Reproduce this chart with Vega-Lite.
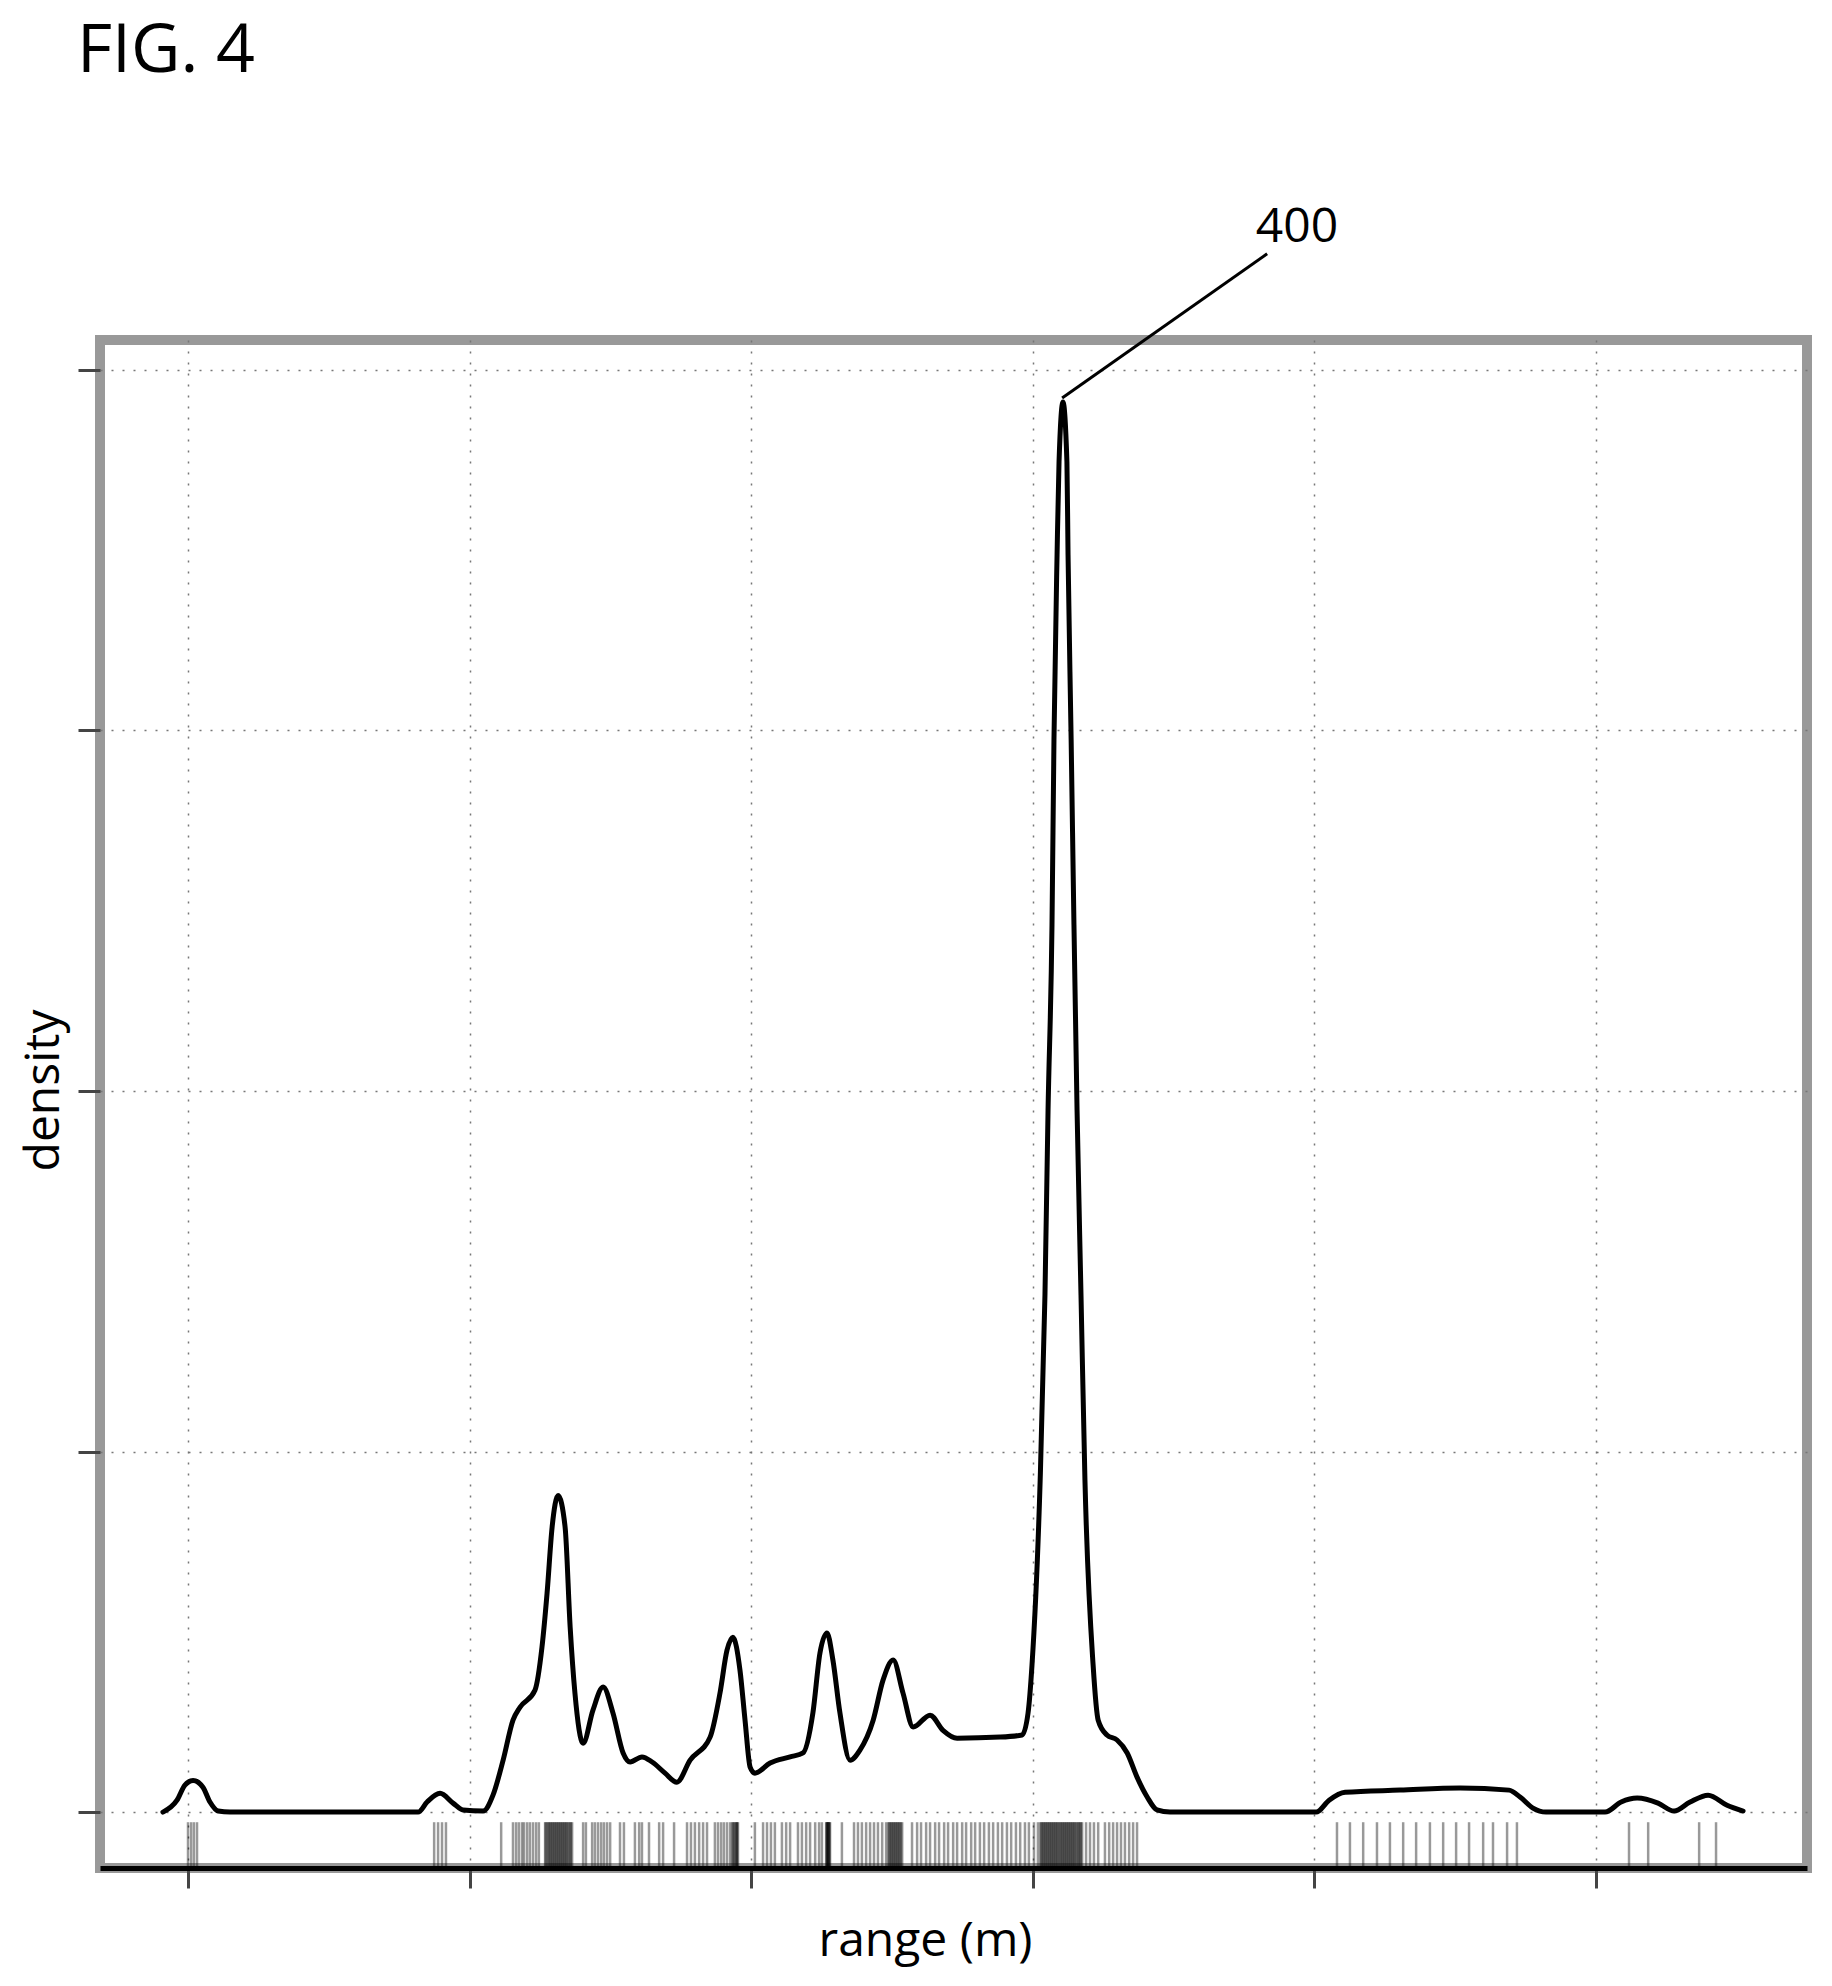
{
"$schema": "https://vega.github.io/schema/vega-lite/v6.json",
"width": 1707, "height": 1528,
"autosize": {"type": "none"},
"padding": {"left": 100, "top": 340, "right": 25, "bottom": 118},
"background": "white",
"title": {"text": "FIG. 4", "anchor": "start", "frame": "group", "font": "Open Sans", "fontSize": 68, "fontWeight": "normal", "color": "black", "baseline": "alphabetic", "offset": 64, "dx": -23},
"datasets": {
"curve": [
{"r":-0.89,"d":0},{"r":-0.39,"d":0.0033},{"r":-0.11,"d":0.0075},{"r":0.18,"d":0.0088},{"r":0.53,"d":0.0069},{"r":0.78,"d":0.0028},{"r":1.07,"d":0.0003},{"r":1.49,"d":0},{"r":3.98,"d":0},{"r":8.17,"d":0},{"r":8.49,"d":0.0028},{"r":8.95,"d":0.0052},{"r":9.41,"d":0.0025},{"r":9.77,"d":0.0006},{"r":10.48,"d":0.0003},{"r":10.83,"d":0.0047},{"r":11.19,"d":0.0144},{"r":11.54,"d":0.0255},{"r":11.79,"d":0.0291},{"r":12.32,"d":0.0338},{"r":12.57,"d":0.0458},{"r":12.75,"d":0.0607},{"r":12.93,"d":0.0791},{"r":13.14,"d":0.0878},{"r":13.39,"d":0.0791},{"r":13.57,"d":0.0513},{"r":13.74,"d":0.033},{"r":14.03,"d":0.0191},{"r":14.38,"d":0.0283},{"r":14.74,"d":0.0347},{"r":15.09,"d":0.0275},{"r":15.45,"d":0.0164},{"r":15.7,"d":0.0139},{"r":16.12,"d":0.0153},{"r":16.48,"d":0.0139},{"r":16.94,"d":0.0108},{"r":17.36,"d":0.0083},{"r":17.83,"d":0.0144},{"r":18.54,"d":0.0208},{"r":18.89,"d":0.033},{"r":19.14,"d":0.0449},{"r":19.35,"d":0.0485},{"r":19.6,"d":0.0394},{"r":19.78,"d":0.0255},{"r":19.96,"d":0.0125},{"r":20.13,"d":0.0108},{"r":20.67,"d":0.0136},{"r":21.38,"d":0.0153},{"r":21.84,"d":0.0164},{"r":22.19,"d":0.0275},{"r":22.44,"d":0.0441},{"r":22.69,"d":0.0497},{"r":22.9,"d":0.0422},{"r":23.15,"d":0.0275},{"r":23.51,"d":0.0144},{"r":23.86,"d":0.0172},{"r":24.33,"d":0.0255},{"r":24.68,"d":0.0366},{"r":25.04,"d":0.0422},{"r":25.39,"d":0.033},{"r":25.75,"d":0.0236},{"r":26.35,"d":0.0269},{"r":26.81,"d":0.0227},{"r":27.31,"d":0.0205},{"r":28.84,"d":0.0208},{"r":29.62,"d":0.0214},{"r":29.83,"d":0.0275},{"r":29.97,"d":0.0408},{"r":30.26,"d":0.0921},{"r":30.43,"d":0.1434},{"r":30.54,"d":0.1947},{"r":30.68,"d":0.2461},{"r":30.75,"d":0.2974},{"r":30.86,"d":0.3487},{"r":30.93,"d":0.3745},{"r":31.07,"d":0.3911},{"r":31.21,"d":0.3745},{"r":31.25,"d":0.3487},{"r":31.36,"d":0.2974},{"r":31.46,"d":0.2461},{"r":31.57,"d":0.1947},{"r":31.71,"d":0.1434},{"r":31.85,"d":0.0921},{"r":32.14,"d":0.0408},{"r":32.32,"d":0.0255},{"r":32.63,"d":0.0214},{"r":32.99,"d":0.02},{"r":33.35,"d":0.0164},{"r":33.7,"d":0.0097},{"r":34.06,"d":0.0042},{"r":34.41,"d":0.0006},{"r":34.87,"d":0},{"r":40.06,"d":0},{"r":40.52,"d":0.0033},{"r":41.09,"d":0.0055},{"r":43.04,"d":0.0061},{"r":45.17,"d":0.0067},{"r":46.91,"d":0.0061},{"r":47.3,"d":0.0042},{"r":47.76,"d":0.0011},{"r":48.22,"d":0},{"r":50.32,"d":0},{"r":50.89,"d":0.0028},{"r":51.46,"d":0.0039},{"r":52.2,"d":0.0025},{"r":52.77,"d":0.0003},{"r":53.34,"d":0.0028},{"r":53.98,"d":0.0047},{"r":54.65,"d":0.0019},{"r":55.22,"d":0.0003}
],
"rug": [
{"r":0.0},{"r":0.11},{"r":0.21},{"r":0.32},
{"r":8.74},{"r":8.88},{"r":9.02},{"r":9.16},
{"r":11.12},
{"r":11.54},{"r":11.65},{"r":11.75},{"r":11.86},{"r":11.93},{"r":12.04},{"r":12.14},{"r":12.25},{"r":12.36},{"r":12.46},
{"r":12.68},{"r":12.75},{"r":12.82},{"r":12.89},{"r":12.96},{"r":13.03},{"r":13.07},{"r":13.14},{"r":13.21},{"r":13.28},{"r":13.35},{"r":13.42},{"r":13.49},{"r":13.57},{"r":13.64},
{"r":12.7},{"r":12.79},{"r":12.86},{"r":12.93},{"r":13.0},{"r":13.1},{"r":13.17},{"r":13.24},{"r":13.31},{"r":13.38},{"r":13.45},{"r":13.53},{"r":13.6},
{"r":14.03},{"r":14.13},
{"r":14.35},{"r":14.45},{"r":14.56},{"r":14.67},{"r":14.77},{"r":14.88},{"r":14.99},
{"r":15.34},{"r":15.48},
{"r":15.87},{"r":16.02},{"r":16.12},
{"r":16.37},
{"r":16.73},{"r":16.87},
{"r":17.26},
{"r":17.72},{"r":17.86},{"r":18.0},{"r":18.15},{"r":18.29},{"r":18.43},
{"r":18.71},{"r":18.82},{"r":18.93},{"r":19.03},{"r":19.14},{"r":19.25},{"r":19.32},{"r":19.39},{"r":19.46},{"r":19.53},{"r":19.35},{"r":19.42},{"r":19.49},{"r":19.5},
{"r":20.13},
{"r":20.42},{"r":20.56},{"r":20.7},{"r":20.84},
{"r":21.09},{"r":21.24},{"r":21.38},
{"r":21.66},{"r":21.8},{"r":21.95},{"r":22.09},
{"r":22.27},{"r":22.41},{"r":22.51},
{"r":22.66},{"r":22.69},{"r":22.73},{"r":22.76},{"r":22.8},{"r":22.68},{"r":22.71},{"r":22.74},{"r":22.78},
{"r":23.22},
{"r":23.65},{"r":23.79},{"r":23.93},{"r":24.08},{"r":24.22},{"r":24.36},{"r":24.5},{"r":24.65},
{"r":24.79},{"r":24.86},{"r":24.93},{"r":25.0},{"r":25.07},{"r":25.14},{"r":25.21},{"r":25.28},{"r":25.36},{"r":24.9},{"r":24.97},{"r":25.04},{"r":25.11},{"r":25.18},{"r":25.25},{"r":25.32},
{"r":25.71},{"r":25.89},{"r":26.03},{"r":26.21},{"r":26.35},{"r":26.53},{"r":26.67},{"r":26.85},{"r":26.99},{"r":27.17},{"r":27.31},{"r":27.49},{"r":27.63},{"r":27.81},{"r":27.95},{"r":28.12},{"r":28.27},{"r":28.44},{"r":28.59},{"r":28.76},{"r":28.91},{"r":29.08},{"r":29.23},{"r":29.4},{"r":29.55},{"r":29.72},{"r":29.86},{"r":30.04},{"r":30.18},
{"r":30.26},{"r":30.33},{"r":30.4},{"r":30.47},{"r":30.54},{"r":30.61},{"r":30.68},{"r":30.75},{"r":30.82},{"r":30.89},{"r":30.97},{"r":31.04},{"r":31.11},{"r":31.18},{"r":31.25},{"r":31.32},{"r":31.39},{"r":31.46},{"r":31.53},{"r":31.61},{"r":31.68},{"r":31.75},
{"r":30.3},{"r":30.37},{"r":30.44},{"r":30.51},{"r":30.58},{"r":30.65},{"r":30.72},{"r":30.79},{"r":30.86},{"r":30.93},{"r":31.0},{"r":31.07},{"r":31.14},{"r":31.21},{"r":31.28},{"r":31.35},{"r":31.42},{"r":31.49},{"r":31.57},{"r":31.64},{"r":31.71},
{"r":31.89},{"r":32.03},{"r":32.17},{"r":32.32},
{"r":32.56},{"r":32.71},{"r":32.85},{"r":32.99},{"r":33.13},{"r":33.27},{"r":33.42},{"r":33.56},{"r":33.7},
{"r":40.8},{"r":41.26},{"r":41.73},{"r":42.22},{"r":42.68},{"r":43.15},{"r":43.61},{"r":44.1},{"r":44.57},{"r":45.03},{"r":45.49},{"r":45.99},{"r":46.34},{"r":46.84},{"r":47.19},
{"r":51.17},{"r":51.85},{"r":53.66},{"r":54.26}
],
"note": [{"x1": 31.04, "y1": 0.3922, "x2": 38.32, "y2": 0.4322, "tx": 39.38, "ty": 0.4355, "label": "400"}]
},
"layer": [
{"data": {"name": "curve"},
 "mark": {"type": "line", "color": "black", "strokeWidth": 5, "interpolate": "monotone", "strokeJoin": "round", "strokeCap": "round"},
 "encoding": {
  "x": {"field": "r", "type": "quantitative", "scale": {"domain": [-3.125, 57.49], "nice": false, "zero": false},
        "axis": {"title": "range (m)", "values": [0, 10, 20, 30, 40, 50], "labels": false, "ticks": true, "tickSize": 20, "tickWidth": 3, "tickColor": "#444444", "grid": true, "gridColor": "#777777", "gridDash": [2, 9], "gridWidth": 1.5, "domain": true, "domainColor": "black", "domainWidth": 5, "titleFont": "Open Sans", "titleFontSize": 48, "titleFontWeight": "normal", "titleColor": "black", "titlePadding": 28, "titleX": 825}},
  "y": {"field": "d", "type": "quantitative", "scale": {"domain": [-0.0155, 0.4083], "nice": false, "zero": false},
        "axis": {"title": "density", "values": [0, 0.1, 0.2, 0.3, 0.4], "labels": false, "ticks": true, "tickSize": 22, "tickWidth": 3, "tickColor": "#444444", "grid": true, "gridColor": "#777777", "gridDash": [2, 9], "gridWidth": 1.5, "domain": false, "titleFont": "Open Sans", "titleFontSize": 48, "titleFontWeight": "normal", "titleColor": "black", "titlePadding": 8, "titleY": 750}}
 }},
{"data": {"name": "rug"},
 "mark": {"type": "rule", "color": "black", "opacity": 0.4, "strokeWidth": 2.5},
 "encoding": {
  "x": {"field": "r", "type": "quantitative", "scale": {"domain": [-3.125, 57.49], "nice": false, "zero": false}},
  "y": {"datum": -0.0028, "type": "quantitative", "scale": {"domain": [-0.0155, 0.4083], "nice": false, "zero": false}},
  "y2": {"datum": -0.0155}
 }},
{"data": {"name": "note"},
 "mark": {"type": "rule", "color": "black", "strokeWidth": 3},
 "encoding": {
  "x": {"field": "x1", "type": "quantitative", "scale": {"domain": [-3.125, 57.49], "nice": false, "zero": false}},
  "y": {"field": "y1", "type": "quantitative", "scale": {"domain": [-0.0155, 0.4083], "nice": false, "zero": false}},
  "x2": {"field": "x2"},
  "y2": {"field": "y2"}
 }},
{"data": {"name": "note"},
 "mark": {"type": "text", "font": "Open Sans", "fontSize": 48, "align": "center", "baseline": "alphabetic", "color": "black"},
 "encoding": {
  "x": {"field": "tx", "type": "quantitative", "scale": {"domain": [-3.125, 57.49], "nice": false, "zero": false}},
  "y": {"field": "ty", "type": "quantitative", "scale": {"domain": [-0.0155, 0.4083], "nice": false, "zero": false}},
  "text": {"field": "label"}
 }}
],
"config": {"view": {"stroke": "#999999", "strokeWidth": 10}}
}
